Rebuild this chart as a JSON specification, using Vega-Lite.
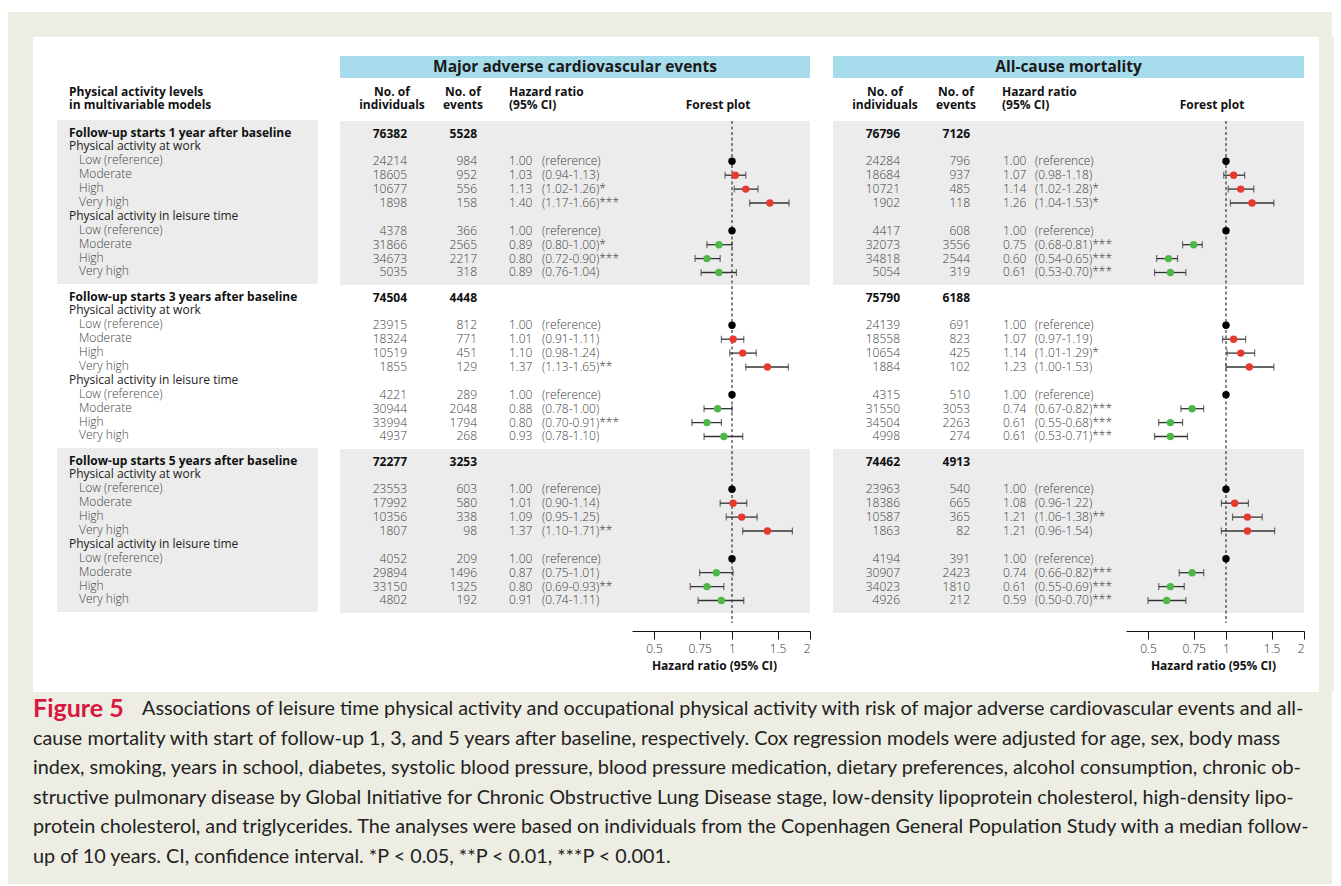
{
"$schema": "https://vega.github.io/schema/vega-lite/v6.json",
"background": "#ffffff",
"padding": {"left": 8, "top": 12, "right": 9, "bottom": 2},
"spacing": 0,
"config": {"view": {"stroke": null}, "font": "Open Sans", "text": {"fontSize": 12, "baseline": "middle", "color": "#3a3a3a"}},
"datasets": {
"labels": [
{"s":1,"r":0,"t":"Follow-up starts 1 year after baseline","lv":"sec"},
{"s":1,"r":1,"t":"Physical activity at work","lv":"grp"},
{"s":1,"r":2,"t":"Low (reference)","lv":"item"},
{"s":1,"r":3,"t":"Moderate","lv":"item"},
{"s":1,"r":4,"t":"High","lv":"item"},
{"s":1,"r":5,"t":"Very high","lv":"item"},
{"s":1,"r":6,"t":"Physical activity in leisure time","lv":"grp"},
{"s":1,"r":7,"t":"Low (reference)","lv":"item"},
{"s":1,"r":8,"t":"Moderate","lv":"item"},
{"s":1,"r":9,"t":"High","lv":"item"},
{"s":1,"r":10,"t":"Very high","lv":"item"},
{"s":2,"r":0,"t":"Follow-up starts 3 years after baseline","lv":"sec"},
{"s":2,"r":1,"t":"Physical activity at work","lv":"grp"},
{"s":2,"r":2,"t":"Low (reference)","lv":"item"},
{"s":2,"r":3,"t":"Moderate","lv":"item"},
{"s":2,"r":4,"t":"High","lv":"item"},
{"s":2,"r":5,"t":"Very high","lv":"item"},
{"s":2,"r":6,"t":"Physical activity in leisure time","lv":"grp"},
{"s":2,"r":7,"t":"Low (reference)","lv":"item"},
{"s":2,"r":8,"t":"Moderate","lv":"item"},
{"s":2,"r":9,"t":"High","lv":"item"},
{"s":2,"r":10,"t":"Very high","lv":"item"},
{"s":3,"r":0,"t":"Follow-up starts 5 years after baseline","lv":"sec"},
{"s":3,"r":1,"t":"Physical activity at work","lv":"grp"},
{"s":3,"r":2,"t":"Low (reference)","lv":"item"},
{"s":3,"r":3,"t":"Moderate","lv":"item"},
{"s":3,"r":4,"t":"High","lv":"item"},
{"s":3,"r":5,"t":"Very high","lv":"item"},
{"s":3,"r":6,"t":"Physical activity in leisure time","lv":"grp"},
{"s":3,"r":7,"t":"Low (reference)","lv":"item"},
{"s":3,"r":8,"t":"Moderate","lv":"item"},
{"s":3,"r":9,"t":"High","lv":"item"},
{"s":3,"r":10,"t":"Very high","lv":"item"}
],
"tbl": [
{"o":"MACE","s":1,"r":0,"k":"total","n":76382,"ev":5528},
{"o":"MACE","s":1,"r":2,"k":"item","n":24214,"ev":984,"hr":1.00,"ci":"\u00a0(reference)","cat":"ref"},
{"o":"MACE","s":1,"r":3,"k":"item","n":18605,"ev":952,"hr":1.03,"lo":0.94,"hi":1.13,"ci":"(0.94-1.13)","cat":"work"},
{"o":"MACE","s":1,"r":4,"k":"item","n":10677,"ev":556,"hr":1.13,"lo":1.02,"hi":1.26,"ci":"(1.02-1.26)*","cat":"work"},
{"o":"MACE","s":1,"r":5,"k":"item","n":1898,"ev":158,"hr":1.40,"lo":1.17,"hi":1.66,"ci":"(1.17-1.66)***","cat":"work"},
{"o":"MACE","s":1,"r":7,"k":"item","n":4378,"ev":366,"hr":1.00,"ci":"\u00a0(reference)","cat":"ref"},
{"o":"MACE","s":1,"r":8,"k":"item","n":31866,"ev":2565,"hr":0.89,"lo":0.80,"hi":1.00,"ci":"(0.80-1.00)*","cat":"leisure"},
{"o":"MACE","s":1,"r":9,"k":"item","n":34673,"ev":2217,"hr":0.80,"lo":0.72,"hi":0.90,"ci":"(0.72-0.90)***","cat":"leisure"},
{"o":"MACE","s":1,"r":10,"k":"item","n":5035,"ev":318,"hr":0.89,"lo":0.76,"hi":1.04,"ci":"(0.76-1.04)","cat":"leisure"},
{"o":"MACE","s":2,"r":0,"k":"total","n":74504,"ev":4448},
{"o":"MACE","s":2,"r":2,"k":"item","n":23915,"ev":812,"hr":1.00,"ci":"\u00a0(reference)","cat":"ref"},
{"o":"MACE","s":2,"r":3,"k":"item","n":18324,"ev":771,"hr":1.01,"lo":0.91,"hi":1.11,"ci":"(0.91-1.11)","cat":"work"},
{"o":"MACE","s":2,"r":4,"k":"item","n":10519,"ev":451,"hr":1.10,"lo":0.98,"hi":1.24,"ci":"(0.98-1.24)","cat":"work"},
{"o":"MACE","s":2,"r":5,"k":"item","n":1855,"ev":129,"hr":1.37,"lo":1.13,"hi":1.65,"ci":"(1.13-1.65)**","cat":"work"},
{"o":"MACE","s":2,"r":7,"k":"item","n":4221,"ev":289,"hr":1.00,"ci":"\u00a0(reference)","cat":"ref"},
{"o":"MACE","s":2,"r":8,"k":"item","n":30944,"ev":2048,"hr":0.88,"lo":0.78,"hi":1.00,"ci":"(0.78-1.00)","cat":"leisure"},
{"o":"MACE","s":2,"r":9,"k":"item","n":33994,"ev":1794,"hr":0.80,"lo":0.70,"hi":0.91,"ci":"(0.70-0.91)***","cat":"leisure"},
{"o":"MACE","s":2,"r":10,"k":"item","n":4937,"ev":268,"hr":0.93,"lo":0.78,"hi":1.10,"ci":"(0.78-1.10)","cat":"leisure"},
{"o":"MACE","s":3,"r":0,"k":"total","n":72277,"ev":3253},
{"o":"MACE","s":3,"r":2,"k":"item","n":23553,"ev":603,"hr":1.00,"ci":"\u00a0(reference)","cat":"ref"},
{"o":"MACE","s":3,"r":3,"k":"item","n":17992,"ev":580,"hr":1.01,"lo":0.90,"hi":1.14,"ci":"(0.90-1.14)","cat":"work"},
{"o":"MACE","s":3,"r":4,"k":"item","n":10356,"ev":338,"hr":1.09,"lo":0.95,"hi":1.25,"ci":"(0.95-1.25)","cat":"work"},
{"o":"MACE","s":3,"r":5,"k":"item","n":1807,"ev":98,"hr":1.37,"lo":1.10,"hi":1.71,"ci":"(1.10-1.71)**","cat":"work"},
{"o":"MACE","s":3,"r":7,"k":"item","n":4052,"ev":209,"hr":1.00,"ci":"\u00a0(reference)","cat":"ref"},
{"o":"MACE","s":3,"r":8,"k":"item","n":29894,"ev":1496,"hr":0.87,"lo":0.75,"hi":1.01,"ci":"(0.75-1.01)","cat":"leisure"},
{"o":"MACE","s":3,"r":9,"k":"item","n":33150,"ev":1325,"hr":0.80,"lo":0.69,"hi":0.93,"ci":"(0.69-0.93)**","cat":"leisure"},
{"o":"MACE","s":3,"r":10,"k":"item","n":4802,"ev":192,"hr":0.91,"lo":0.74,"hi":1.11,"ci":"(0.74-1.11)","cat":"leisure"},
{"o":"ACM","s":1,"r":0,"k":"total","n":76796,"ev":7126},
{"o":"ACM","s":1,"r":2,"k":"item","n":24284,"ev":796,"hr":1.00,"ci":"\u00a0(reference)","cat":"ref"},
{"o":"ACM","s":1,"r":3,"k":"item","n":18684,"ev":937,"hr":1.07,"lo":0.98,"hi":1.18,"ci":"(0.98-1.18)","cat":"work"},
{"o":"ACM","s":1,"r":4,"k":"item","n":10721,"ev":485,"hr":1.14,"lo":1.02,"hi":1.28,"ci":"(1.02-1.28)*","cat":"work"},
{"o":"ACM","s":1,"r":5,"k":"item","n":1902,"ev":118,"hr":1.26,"lo":1.04,"hi":1.53,"ci":"(1.04-1.53)*","cat":"work"},
{"o":"ACM","s":1,"r":7,"k":"item","n":4417,"ev":608,"hr":1.00,"ci":"\u00a0(reference)","cat":"ref"},
{"o":"ACM","s":1,"r":8,"k":"item","n":32073,"ev":3556,"hr":0.75,"lo":0.68,"hi":0.81,"ci":"(0.68-0.81)***","cat":"leisure"},
{"o":"ACM","s":1,"r":9,"k":"item","n":34818,"ev":2544,"hr":0.60,"lo":0.54,"hi":0.65,"ci":"(0.54-0.65)***","cat":"leisure"},
{"o":"ACM","s":1,"r":10,"k":"item","n":5054,"ev":319,"hr":0.61,"lo":0.53,"hi":0.70,"ci":"(0.53-0.70)***","cat":"leisure"},
{"o":"ACM","s":2,"r":0,"k":"total","n":75790,"ev":6188},
{"o":"ACM","s":2,"r":2,"k":"item","n":24139,"ev":691,"hr":1.00,"ci":"\u00a0(reference)","cat":"ref"},
{"o":"ACM","s":2,"r":3,"k":"item","n":18558,"ev":823,"hr":1.07,"lo":0.97,"hi":1.19,"ci":"(0.97-1.19)","cat":"work"},
{"o":"ACM","s":2,"r":4,"k":"item","n":10654,"ev":425,"hr":1.14,"lo":1.01,"hi":1.29,"ci":"(1.01-1.29)*","cat":"work"},
{"o":"ACM","s":2,"r":5,"k":"item","n":1884,"ev":102,"hr":1.23,"lo":1.00,"hi":1.53,"ci":"(1.00-1.53)","cat":"work"},
{"o":"ACM","s":2,"r":7,"k":"item","n":4315,"ev":510,"hr":1.00,"ci":"\u00a0(reference)","cat":"ref"},
{"o":"ACM","s":2,"r":8,"k":"item","n":31550,"ev":3053,"hr":0.74,"lo":0.67,"hi":0.82,"ci":"(0.67-0.82)***","cat":"leisure"},
{"o":"ACM","s":2,"r":9,"k":"item","n":34504,"ev":2263,"hr":0.61,"lo":0.55,"hi":0.68,"ci":"(0.55-0.68)***","cat":"leisure"},
{"o":"ACM","s":2,"r":10,"k":"item","n":4998,"ev":274,"hr":0.61,"lo":0.53,"hi":0.71,"ci":"(0.53-0.71)***","cat":"leisure"},
{"o":"ACM","s":3,"r":0,"k":"total","n":74462,"ev":4913},
{"o":"ACM","s":3,"r":2,"k":"item","n":23963,"ev":540,"hr":1.00,"ci":"\u00a0(reference)","cat":"ref"},
{"o":"ACM","s":3,"r":3,"k":"item","n":18386,"ev":665,"hr":1.08,"lo":0.96,"hi":1.22,"ci":"(0.96-1.22)","cat":"work"},
{"o":"ACM","s":3,"r":4,"k":"item","n":10587,"ev":365,"hr":1.21,"lo":1.06,"hi":1.38,"ci":"(1.06-1.38)**","cat":"work"},
{"o":"ACM","s":3,"r":5,"k":"item","n":1863,"ev":82,"hr":1.21,"lo":0.96,"hi":1.54,"ci":"(0.96-1.54)","cat":"work"},
{"o":"ACM","s":3,"r":7,"k":"item","n":4194,"ev":391,"hr":1.00,"ci":"\u00a0(reference)","cat":"ref"},
{"o":"ACM","s":3,"r":8,"k":"item","n":30907,"ev":2423,"hr":0.74,"lo":0.66,"hi":0.82,"ci":"(0.66-0.82)***","cat":"leisure"},
{"o":"ACM","s":3,"r":9,"k":"item","n":34023,"ev":1810,"hr":0.61,"lo":0.55,"hi":0.69,"ci":"(0.55-0.69)***","cat":"leisure"},
{"o":"ACM","s":3,"r":10,"k":"item","n":4926,"ev":212,"hr":0.59,"lo":0.50,"hi":0.70,"ci":"(0.50-0.70)***","cat":"leisure"}
],
"cap": [
{"line":1,"t":"Associations of leisure time physical activity and occupational physical activity with risk of major adverse cardiovascular events and all-"},
{"line":2,"t":"cause mortality with start of follow-up 1, 3, and 5 years after baseline, respectively. Cox regression models were adjusted for age, sex, body mass"},
{"line":3,"t":"index, smoking, years in school, diabetes, systolic blood pressure, blood pressure medication, dietary preferences, alcohol consumption, chronic ob-"},
{"line":4,"t":"structive pulmonary disease by Global Initiative for Chronic Obstructive Lung Disease stage, low-density lipoprotein cholesterol, high-density lipo-"},
{"line":5,"t":"protein cholesterol, and triglycerides. The analyses were based on individuals from the Copenhagen General Population Study with a median follow-"},
{"line":6,"t":"up of 10 years. CI, confidence interval. *P < 0.05, **P < 0.01, ***P < 0.001."}
],
"one": [{"u":1}]
},
"vconcat": [
{"width": 1324, "height": 25, "view": {"fill": "#EDEDE3", "stroke": null}, "data": {"name": "one"}, "mark": {"type": "text", "text": ""}, "encoding": {}},
{"hconcat": [
 {"width": 25, "height": 655, "view": {"fill": "#EDEDE3", "stroke": null}, "data": {"name": "one"}, "mark": {"type": "text", "text": ""}, "encoding": {}},
 {"width": 24, "height": 655, "data": {"name": "one"}, "mark": {"type": "text", "text": ""}, "encoding": {}},
 {"hconcat": [
  {"vconcat": [
   {"width": 261, "height": 80, "data": {"name": "one"},
    "mark": {"type": "text", "text": "Physical activity levels\nin multivariable models", "lineBreak": "\n", "lineHeight": 12.5, "align": "left", "fontWeight": "bold", "color": "#111", "fontSize": 12},
    "encoding": {
     "x": {"datum": 12, "type": "quantitative", "scale": {"domain": [0, 261], "nice": false, "zero": false}, "axis": null},
     "y": {"datum": "cols", "type": "nominal", "scale": {"type": "band", "domain": ["title", "cols"], "paddingInner": 0.12, "paddingOuter": 0.66, "align": 0.576}, "axis": null}
    }},
   {"width": 261, "height": 502, "data": {"name": "labels"},
    "layer": [
     {"transform": [{"filter": "datum.r == 0 && datum.s != 2"}], "mark": {"type": "rect", "fill": "#EBECEB"},
      "encoding": {"y": {"field": "s", "type": "ordinal", "scale": {"domain": [1,2,3], "paddingInner": 0, "paddingOuter": 0.0305, "align": 0}, "axis": null}}},
     {"transform": [{"filter": "datum.lv == 'sec'"}], "mark": {"type": "text", "align": "left", "fontWeight": "bold", "color": "#111"},
      "encoding": {
       "x": {"datum": 12, "type": "quantitative", "scale": {"domain": [0, 261], "nice": false, "zero": false}, "axis": null},
       "y": {"field": "s", "type": "ordinal", "scale": {"domain": [1,2,3], "paddingInner": 0, "paddingOuter": 0.0305, "align": 0}, "axis": null},
       "yOffset": {"field": "r", "type": "ordinal", "scale": {"domain": [0,1,2,3,4,5,6,7,8,9,10], "paddingInner": 0, "paddingOuter": 0.4}},
       "text": {"field": "t"}}},
     {"transform": [{"filter": "datum.lv == 'grp'"}], "mark": {"type": "text", "align": "left", "color": "#222"},
      "encoding": {
       "x": {"datum": 12, "type": "quantitative", "scale": {"domain": [0, 261], "nice": false, "zero": false}, "axis": null},
       "y": {"field": "s", "type": "ordinal", "axis": null},
       "yOffset": {"field": "r", "type": "ordinal"},
       "text": {"field": "t"}}},
     {"transform": [{"filter": "datum.lv == 'item'"}], "mark": {"type": "text", "align": "left", "color": "#444", "fontWeight": 300},
      "encoding": {
       "x": {"datum": 22, "type": "quantitative", "scale": {"domain": [0, 261], "nice": false, "zero": false}, "axis": null},
       "y": {"field": "s", "type": "ordinal", "axis": null},
       "yOffset": {"field": "r", "type": "ordinal"},
       "text": {"field": "t"}}}
    ]}
  ], "spacing": 3},
  {"vconcat": [
   {"width": 470, "height": 80, "data": {"name": "one"},
    "encoding": {"x": {"datum": 235, "type": "quantitative", "scale": {"domain": [0, 470], "nice": false, "zero": false}, "axis": null}},
    "layer": [
     {"mark": {"type": "rect", "fill": "#A6DCEB"}, "encoding": {"x": null, "y": {"datum": "title", "type": "nominal", "scale": {"type": "band", "domain": ["title", "cols"], "paddingInner": 0.12, "paddingOuter": 0.66, "align": 0.576}, "axis": null}}},
     {"mark": {"type": "text", "text": "Major adverse cardiovascular events", "align": "center", "fontWeight": "bold", "fontSize": 15.5, "color": "#1a1a1a"}, "encoding": {"y": {"datum": "title", "type": "nominal"}}},
     {"mark": {"type": "text", "text": "No. of\nindividuals", "lineBreak": "\n", "lineHeight": 12.5, "align": "center", "fontWeight": "bold", "color": "#111"}, "encoding": {"x": {"datum": 52, "type": "quantitative"}, "y": {"datum": "cols", "type": "nominal"}}},
     {"mark": {"type": "text", "text": "No. of\nevents", "lineBreak": "\n", "lineHeight": 12.5, "align": "center", "fontWeight": "bold", "color": "#111"}, "encoding": {"x": {"datum": 123, "type": "quantitative"}, "y": {"datum": "cols", "type": "nominal"}}},
     {"mark": {"type": "text", "text": "Hazard ratio\n(95% CI)", "lineBreak": "\n", "lineHeight": 12.5, "align": "left", "fontWeight": "bold", "color": "#111"}, "encoding": {"x": {"datum": 169, "type": "quantitative"}, "y": {"datum": "cols", "type": "nominal"}}},
     {"mark": {"type": "text", "text": " \nForest plot", "lineBreak": "\n", "lineHeight": 12.5, "align": "center", "fontWeight": "bold", "color": "#111"}, "encoding": {"x": {"datum": 378, "type": "quantitative"}, "y": {"datum": "cols", "type": "nominal"}}}
    ]},
   {"hconcat": [
    {"width": 292, "height": 502, "data": {"name": "tbl"}, "transform": [{"filter": "datum.o == 'MACE'"}],
     "layer": [
      {"transform": [{"filter": "datum.k == 'total' && datum.s != 2"}], "mark": {"type": "rect", "fill": "#EBECEB"},
       "encoding": {"y": {"field": "s", "type": "ordinal", "scale": {"domain": [1,2,3], "paddingInner": 0, "paddingOuter": 0.0305, "align": 0}, "axis": null}}},
      {"transform": [{"filter": "datum.k == 'total'"}], "mark": {"type": "text", "align": "right", "fontWeight": "bold", "color": "#111"},
       "encoding": {"x": {"datum": 67, "type": "quantitative", "scale": {"domain": [0, 292], "nice": false, "zero": false}, "axis": null},
        "y": {"field": "s", "type": "ordinal", "axis": null}, "yOffset": {"field": "r", "type": "ordinal", "scale": {"domain": [0,1,2,3,4,5,6,7,8,9,10], "paddingInner": 0, "paddingOuter": 0.4}}, "text": {"field": "n", "type": "nominal"}}},
      {"transform": [{"filter": "datum.k == 'total'"}], "mark": {"type": "text", "align": "right", "fontWeight": "bold", "color": "#111"},
       "encoding": {"x": {"datum": 137, "type": "quantitative"}, "y": {"field": "s", "type": "ordinal", "axis": null}, "yOffset": {"field": "r", "type": "ordinal"}, "text": {"field": "ev", "type": "nominal"}}},
      {"transform": [{"filter": "datum.k == 'item'"}], "mark": {"type": "text", "align": "right", "fontWeight": 300, "color": "#404040"},
       "encoding": {"x": {"datum": 67, "type": "quantitative"}, "y": {"field": "s", "type": "ordinal", "axis": null}, "yOffset": {"field": "r", "type": "ordinal"}, "text": {"field": "n", "type": "nominal"}}},
      {"transform": [{"filter": "datum.k == 'item'"}], "mark": {"type": "text", "align": "right", "fontWeight": 300, "color": "#404040"},
       "encoding": {"x": {"datum": 137, "type": "quantitative"}, "y": {"field": "s", "type": "ordinal", "axis": null}, "yOffset": {"field": "r", "type": "ordinal"}, "text": {"field": "ev", "type": "nominal"}}},
      {"transform": [{"filter": "datum.k == 'item'"}], "mark": {"type": "text", "align": "left", "fontWeight": 300, "color": "#404040"},
       "encoding": {"x": {"datum": 169, "type": "quantitative"}, "y": {"field": "s", "type": "ordinal", "axis": null}, "yOffset": {"field": "r", "type": "ordinal"}, "text": {"field": "hr", "type": "quantitative", "format": ".2f"}}},
      {"transform": [{"filter": "datum.k == 'item'"}], "mark": {"type": "text", "align": "left", "fontWeight": 300, "color": "#404040"},
       "encoding": {"x": {"datum": 202, "type": "quantitative"}, "y": {"field": "s", "type": "ordinal", "axis": null}, "yOffset": {"field": "r", "type": "ordinal"}, "text": {"field": "ci", "type": "nominal"}}}
     ]},
    {"width": 178, "height": 502, "data": {"name": "tbl"}, "transform": [{"filter": "datum.o == 'MACE'"}],
     "layer": [
      {"transform": [{"filter": "datum.k == 'total' && datum.s != 2"}], "mark": {"type": "rect", "fill": "#EBECEB"},
       "encoding": {"y": {"field": "s", "type": "ordinal", "scale": {"domain": [1,2,3], "paddingInner": 0, "paddingOuter": 0.0305, "align": 0}, "axis": null}}},
      {"transform": [{"filter": "datum.k == 'total' && datum.s == 1"}], "mark": {"type": "rule", "color": "#111", "strokeDash": [3, 2.5], "strokeWidth": 1},
       "encoding": {"x": {"datum": 1, "type": "quantitative", "scale": {"type": "log", "domain": [0.4112, 2], "nice": false},
        "axis": {"values": [0.5, 0.75, 1, 1.5, 2], "format": "~g", "title": "Hazard ratio (95% CI)", "titleX": 82, "offset": 8, "tickSize": 8, "tickColor": "#111", "domainColor": "#111", "labelColor": "#333", "labelFontSize": 12, "labelFontWeight": 300, "titleFontSize": 12, "titleFontWeight": "bold", "titleColor": "#111", "labelFlush": true, "labelOverlap": false, "grid": false, "labelPadding": 4, "titlePadding": 6}}}},
      {"transform": [{"filter": "isValid(datum.lo)"}], "mark": {"type": "rule", "color": "#333", "strokeWidth": 1.3},
       "encoding": {"x": {"field": "lo", "type": "quantitative", "title": "Hazard ratio (95% CI)"}, "x2": {"field": "hi"}, "y": {"field": "s", "type": "ordinal", "axis": null}, "yOffset": {"field": "r", "type": "ordinal", "scale": {"domain": [0,1,2,3,4,5,6,7,8,9,10], "paddingInner": 0, "paddingOuter": 0.4}}}},
      {"transform": [{"filter": "isValid(datum.lo)"}], "mark": {"type": "tick", "orient": "vertical", "size": 7, "thickness": 1.2, "color": "#333"},
       "encoding": {"x": {"field": "lo", "type": "quantitative", "title": "Hazard ratio (95% CI)"}, "y": {"field": "s", "type": "ordinal", "axis": null}, "yOffset": {"field": "r", "type": "ordinal"}}},
      {"transform": [{"filter": "isValid(datum.hi)"}], "mark": {"type": "tick", "orient": "vertical", "size": 7, "thickness": 1.2, "color": "#333"},
       "encoding": {"x": {"field": "hi", "type": "quantitative", "title": "Hazard ratio (95% CI)"}, "y": {"field": "s", "type": "ordinal", "axis": null}, "yOffset": {"field": "r", "type": "ordinal"}}},
      {"transform": [{"filter": "datum.k == 'item'"}], "mark": {"type": "circle", "size": 55, "opacity": 1},
       "encoding": {"x": {"field": "hr", "type": "quantitative", "title": "Hazard ratio (95% CI)"}, "y": {"field": "s", "type": "ordinal", "axis": null}, "yOffset": {"field": "r", "type": "ordinal"},
        "color": {"field": "cat", "type": "nominal", "scale": {"domain": ["ref", "work", "leisure"], "range": ["#000000", "#E8392E", "#4DB848"]}, "legend": null}}}
     ]}
   ], "spacing": 0}
  ], "spacing": 3},
  {"vconcat": [
   {"width": 471, "height": 80, "data": {"name": "one"},
    "encoding": {"x": {"datum": 235.5, "type": "quantitative", "scale": {"domain": [0, 471], "nice": false, "zero": false}, "axis": null}},
    "layer": [
     {"mark": {"type": "rect", "fill": "#A6DCEB"}, "encoding": {"x": null, "y": {"datum": "title", "type": "nominal", "scale": {"type": "band", "domain": ["title", "cols"], "paddingInner": 0.12, "paddingOuter": 0.66, "align": 0.576}, "axis": null}}},
     {"mark": {"type": "text", "text": "All-cause mortality", "align": "center", "fontWeight": "bold", "fontSize": 15.5, "color": "#1a1a1a"}, "encoding": {"y": {"datum": "title", "type": "nominal"}}},
     {"mark": {"type": "text", "text": "No. of\nindividuals", "lineBreak": "\n", "lineHeight": 12.5, "align": "center", "fontWeight": "bold", "color": "#111"}, "encoding": {"x": {"datum": 52, "type": "quantitative"}, "y": {"datum": "cols", "type": "nominal"}}},
     {"mark": {"type": "text", "text": "No. of\nevents", "lineBreak": "\n", "lineHeight": 12.5, "align": "center", "fontWeight": "bold", "color": "#111"}, "encoding": {"x": {"datum": 123, "type": "quantitative"}, "y": {"datum": "cols", "type": "nominal"}}},
     {"mark": {"type": "text", "text": "Hazard ratio\n(95% CI)", "lineBreak": "\n", "lineHeight": 12.5, "align": "left", "fontWeight": "bold", "color": "#111"}, "encoding": {"x": {"datum": 169, "type": "quantitative"}, "y": {"datum": "cols", "type": "nominal"}}},
     {"mark": {"type": "text", "text": " \nForest plot", "lineBreak": "\n", "lineHeight": 12.5, "align": "center", "fontWeight": "bold", "color": "#111"}, "encoding": {"x": {"datum": 379, "type": "quantitative"}, "y": {"datum": "cols", "type": "nominal"}}}
    ]},
   {"hconcat": [
    {"width": 293, "height": 502, "data": {"name": "tbl"}, "transform": [{"filter": "datum.o == 'ACM'"}],
     "layer": [
      {"transform": [{"filter": "datum.k == 'total' && datum.s != 2"}], "mark": {"type": "rect", "fill": "#EBECEB"},
       "encoding": {"y": {"field": "s", "type": "ordinal", "scale": {"domain": [1,2,3], "paddingInner": 0, "paddingOuter": 0.0305, "align": 0}, "axis": null}}},
      {"transform": [{"filter": "datum.k == 'total'"}], "mark": {"type": "text", "align": "right", "fontWeight": "bold", "color": "#111"},
       "encoding": {"x": {"datum": 67, "type": "quantitative", "scale": {"domain": [0, 293], "nice": false, "zero": false}, "axis": null},
        "y": {"field": "s", "type": "ordinal", "axis": null}, "yOffset": {"field": "r", "type": "ordinal", "scale": {"domain": [0,1,2,3,4,5,6,7,8,9,10], "paddingInner": 0, "paddingOuter": 0.4}}, "text": {"field": "n", "type": "nominal"}}},
      {"transform": [{"filter": "datum.k == 'total'"}], "mark": {"type": "text", "align": "right", "fontWeight": "bold", "color": "#111"},
       "encoding": {"x": {"datum": 137, "type": "quantitative"}, "y": {"field": "s", "type": "ordinal", "axis": null}, "yOffset": {"field": "r", "type": "ordinal"}, "text": {"field": "ev", "type": "nominal"}}},
      {"transform": [{"filter": "datum.k == 'item'"}], "mark": {"type": "text", "align": "right", "fontWeight": 300, "color": "#404040"},
       "encoding": {"x": {"datum": 67, "type": "quantitative"}, "y": {"field": "s", "type": "ordinal", "axis": null}, "yOffset": {"field": "r", "type": "ordinal"}, "text": {"field": "n", "type": "nominal"}}},
      {"transform": [{"filter": "datum.k == 'item'"}], "mark": {"type": "text", "align": "right", "fontWeight": 300, "color": "#404040"},
       "encoding": {"x": {"datum": 137, "type": "quantitative"}, "y": {"field": "s", "type": "ordinal", "axis": null}, "yOffset": {"field": "r", "type": "ordinal"}, "text": {"field": "ev", "type": "nominal"}}},
      {"transform": [{"filter": "datum.k == 'item'"}], "mark": {"type": "text", "align": "left", "fontWeight": 300, "color": "#404040"},
       "encoding": {"x": {"datum": 170, "type": "quantitative"}, "y": {"field": "s", "type": "ordinal", "axis": null}, "yOffset": {"field": "r", "type": "ordinal"}, "text": {"field": "hr", "type": "quantitative", "format": ".2f"}}},
      {"transform": [{"filter": "datum.k == 'item'"}], "mark": {"type": "text", "align": "left", "fontWeight": 300, "color": "#404040"},
       "encoding": {"x": {"datum": 202, "type": "quantitative"}, "y": {"field": "s", "type": "ordinal", "axis": null}, "yOffset": {"field": "r", "type": "ordinal"}, "text": {"field": "ci", "type": "nominal"}}}
     ]},
    {"width": 178, "height": 502, "data": {"name": "tbl"}, "transform": [{"filter": "datum.o == 'ACM'"}],
     "layer": [
      {"transform": [{"filter": "datum.k == 'total' && datum.s != 2"}], "mark": {"type": "rect", "fill": "#EBECEB"},
       "encoding": {"y": {"field": "s", "type": "ordinal", "scale": {"domain": [1,2,3], "paddingInner": 0, "paddingOuter": 0.0305, "align": 0}, "axis": null}}},
      {"transform": [{"filter": "datum.k == 'total' && datum.s == 1"}], "mark": {"type": "rule", "color": "#111", "strokeDash": [3, 2.5], "strokeWidth": 1},
       "encoding": {"x": {"datum": 1, "type": "quantitative", "scale": {"type": "log", "domain": [0.4112, 2], "nice": false},
        "axis": {"values": [0.5, 0.75, 1, 1.5, 2], "format": "~g", "title": "Hazard ratio (95% CI)", "titleX": 87, "offset": 8, "tickSize": 8, "tickColor": "#111", "domainColor": "#111", "labelColor": "#333", "labelFontSize": 12, "labelFontWeight": 300, "titleFontSize": 12, "titleFontWeight": "bold", "titleColor": "#111", "labelFlush": true, "labelOverlap": false, "grid": false, "labelPadding": 4, "titlePadding": 6}}}},
      {"transform": [{"filter": "isValid(datum.lo)"}], "mark": {"type": "rule", "color": "#333", "strokeWidth": 1.3},
       "encoding": {"x": {"field": "lo", "type": "quantitative", "title": "Hazard ratio (95% CI)"}, "x2": {"field": "hi"}, "y": {"field": "s", "type": "ordinal", "axis": null}, "yOffset": {"field": "r", "type": "ordinal", "scale": {"domain": [0,1,2,3,4,5,6,7,8,9,10], "paddingInner": 0, "paddingOuter": 0.4}}}},
      {"transform": [{"filter": "isValid(datum.lo)"}], "mark": {"type": "tick", "orient": "vertical", "size": 7, "thickness": 1.2, "color": "#333"},
       "encoding": {"x": {"field": "lo", "type": "quantitative", "title": "Hazard ratio (95% CI)"}, "y": {"field": "s", "type": "ordinal", "axis": null}, "yOffset": {"field": "r", "type": "ordinal"}}},
      {"transform": [{"filter": "isValid(datum.hi)"}], "mark": {"type": "tick", "orient": "vertical", "size": 7, "thickness": 1.2, "color": "#333"},
       "encoding": {"x": {"field": "hi", "type": "quantitative", "title": "Hazard ratio (95% CI)"}, "y": {"field": "s", "type": "ordinal", "axis": null}, "yOffset": {"field": "r", "type": "ordinal"}}},
      {"transform": [{"filter": "datum.k == 'item'"}], "mark": {"type": "circle", "size": 55, "opacity": 1},
       "encoding": {"x": {"field": "hr", "type": "quantitative", "title": "Hazard ratio (95% CI)"}, "y": {"field": "s", "type": "ordinal", "axis": null}, "yOffset": {"field": "r", "type": "ordinal"},
        "color": {"field": "cat", "type": "nominal", "scale": {"domain": ["ref", "work", "leisure"], "range": ["#000000", "#E8392E", "#4DB848"]}, "legend": null}}}
     ]}
   ], "spacing": 0}
  ], "spacing": 3}
 ], "spacing": 22},
 {"width": 14, "height": 655, "data": {"name": "one"}, "mark": {"type": "text", "text": ""}, "encoding": {}},
 {"width": 15, "height": 655, "view": {"fill": "#EDEDE3", "stroke": null}, "data": {"name": "one"}, "mark": {"type": "text", "text": ""}, "encoding": {}}
], "spacing": 0},
{"width": 1324, "height": 192, "view": {"fill": "#EDEDE3", "stroke": null}, "data": {"name": "cap"},
 "layer": [
  {"transform": [{"filter": "datum.line == 1"}], "mark": {"type": "text", "text": "Figure 5", "align": "left", "fontWeight": "bold", "fontSize": 25, "font": "Lato", "color": "#D7173F"},
   "encoding": {"x": {"datum": 25, "type": "quantitative", "scale": {"domain": [0, 1324], "nice": false, "zero": false}, "axis": null},
    "y": {"field": "line", "type": "ordinal", "scale": {"type": "band", "domain": [1,2,3,4,5,6], "paddingInner": 0, "paddingOuter": 0.254, "align": 0.15}, "axis": null}}},
  {"transform": [{"filter": "datum.line == 1"}], "mark": {"type": "text", "align": "left", "fontSize": 19.8, "font": "Lato", "color": "#222"},
   "encoding": {"x": {"datum": 134, "type": "quantitative"}, "y": {"field": "line", "type": "ordinal", "axis": null}, "text": {"field": "t"}}},
  {"transform": [{"filter": "datum.line > 1"}], "mark": {"type": "text", "align": "left", "fontSize": 19.8, "font": "Lato", "color": "#222"},
   "encoding": {"x": {"datum": 25, "type": "quantitative"}, "y": {"field": "line", "type": "ordinal", "axis": null}, "text": {"field": "t"}}}
 ]}
]
}
